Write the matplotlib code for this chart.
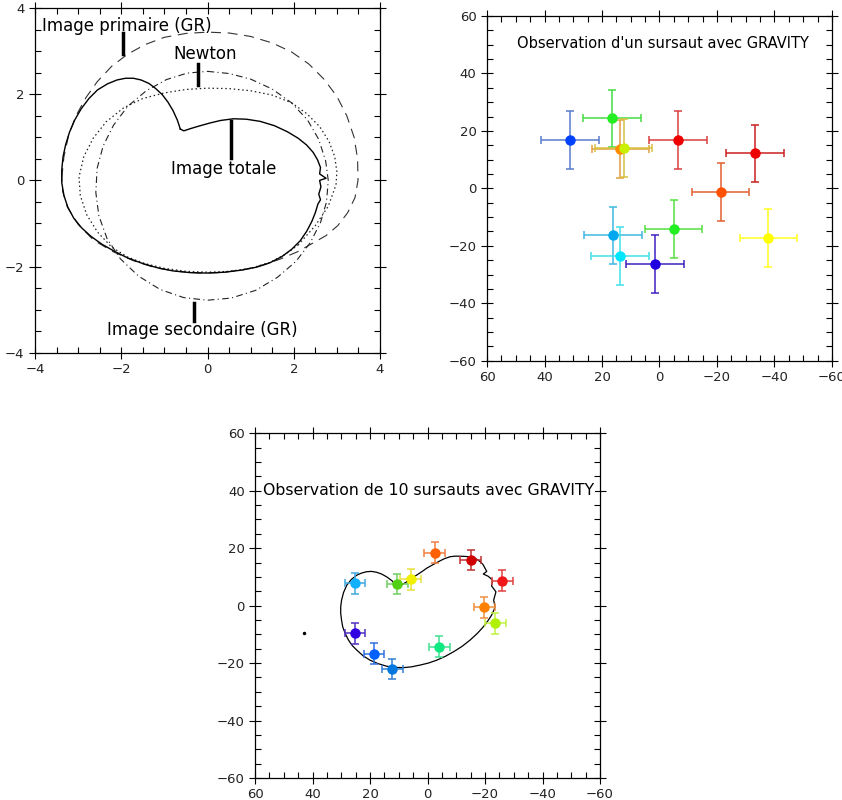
import numpy as np
import matplotlib
matplotlib.use('Agg')
import matplotlib.pyplot as plt
from matplotlib.ticker import MultipleLocator

# ---- panel 1 : images of the hot spot ----
tot_x = [-0.63, -0.70, -0.80, -0.92, -1.05, -1.20, -1.36, -1.54, -1.72, -1.90, -2.10, -2.32,
         -2.55, -2.75, -2.93, -3.08, -3.20, -3.29, -3.35, -3.38, -3.38, -3.33, -3.24, -3.10,
         -2.92, -2.70, -2.45, -2.15, -1.85, -1.50, -1.15, -0.80, -0.40, 0.00, 0.40, 0.80,
         1.15, 1.45, 1.72, 1.95, 2.15, 2.30, 2.42, 2.50, 2.56, 2.62, 2.58, 2.63, 2.60, 2.75,
         2.60, 2.62, 2.55, 2.45, 2.30, 2.10, 1.85, 1.55, 1.22, 0.90, 0.60, 0.30, 0.05, -0.20,
         -0.40, -0.55, -0.63]
tot_y = [1.19, 1.40, 1.62, 1.82, 1.99, 2.13, 2.25, 2.33, 2.37, 2.37, 2.33, 2.24,
         2.10, 1.90, 1.66, 1.40, 1.12, 0.83, 0.55, 0.25, -0.05, -0.35, -0.62, -0.88,
         -1.10, -1.30, -1.48, -1.65, -1.80, -1.93, -2.03, -2.10, -2.14, -2.15, -2.13, -2.08,
         -2.01, -1.91, -1.77, -1.60, -1.40, -1.18, -0.95, -0.75, -0.55, -0.45, -0.32, -0.15,
         0.00, 0.05, 0.15, 0.30, 0.48, 0.65, 0.82, 0.98, 1.13, 1.27, 1.37, 1.42, 1.43, 1.39,
         1.33, 1.26, 1.20, 1.15, 1.19]

prim_x = [-3.38, -3.33, -3.22, -3.05, -2.82, -2.55, -2.22, -1.85, -1.45, -1.00, -0.50, 0.00,
          0.50, 1.00, 1.50, 1.95, 2.35, 2.70, 3.00, 3.23, 3.40, 3.48, 3.49, 3.42, 3.25, 3.02,
          2.75, 2.45, 2.10, 1.70, 1.30, 0.80, 0.30, -0.20, -0.70, -1.20, -1.70, -2.20, -2.65,
          -3.00, -3.25, -3.36, -3.38]
prim_y = [0.05, 0.55, 1.05, 1.50, 1.92, 2.30, 2.65, 2.93, 3.15, 3.32, 3.41, 3.44,
          3.42, 3.34, 3.19, 2.98, 2.70, 2.35, 1.95, 1.50, 1.00, 0.50, 0.00, -0.40, -0.75, -1.05,
          -1.28, -1.45, -1.65, -1.82, -1.96, -2.08, -2.14, -2.15, -2.11, -2.03, -1.87, -1.65, -1.38,
          -1.02, -0.62, -0.25, 0.05]

newt_x = [2.10, 2.50, 2.80, 2.98, 3.00, 2.95, 2.82, 2.60, 2.30, 1.95, 1.50, 1.00, 0.50, 0.00,
          -0.50, -1.00, -1.50, -1.95, -2.35, -2.65, -2.87, -2.98, -2.95, -2.80, -2.55, -2.22,
          -1.85, -1.45, -1.00, -0.50, 0.00, 0.50, 1.00, 1.45, 1.80, 2.10]
newt_y = [-1.50, -1.05, -0.60, -0.10, 0.20, 0.55, 0.90, 1.25, 1.55, 1.80, 1.98, 2.08, 2.13, 2.14,
          2.11, 2.03, 1.90, 1.68, 1.36, 0.98, 0.55, 0.08, -0.35, -0.80, -1.20, -1.55,
          -1.78, -1.93, -2.04, -2.11, -2.13, -2.11, -2.04, -1.90, -1.72, -1.50]

sec_x = [0.00, 0.50, 1.00, 1.50, 1.95, 2.32, 2.58, 2.74, 2.80, 2.76, 2.62, 2.38, 2.05, 1.62,
         1.12, 0.55, 0.00, -0.55, -1.10, -1.60, -2.02, -2.33, -2.52, -2.59, -2.56, -2.42, -2.18,
         -1.85, -1.42, -0.95, -0.47, 0.00]
sec_y = [2.53, 2.48, 2.35, 2.12, 1.80, 1.40, 0.95, 0.45, 0.00, -0.50, -0.98, -1.45, -1.88, -2.25,
         -2.55, -2.73, -2.78, -2.72, -2.53, -2.22, -1.82, -1.35, -0.82, -0.28, 0.28, 0.80, 1.28,
         1.72, 2.08, 2.34, 2.49, 2.53]

# ---- panel 2 : one flare seen by GRAVITY ----
one_x = [31.2, 16.6, 13.6, 12.5, -6.4, -33.2, -21.3, -37.9, -4.9, 16.1, 13.7, 1.6]
one_y = [16.8, 24.4, 13.7, 14.0, 16.8, 12.2, -1.3, -17.2, -14.2, -16.3, -23.6, -26.3]
one_err = 10.0
one_mcol = ['#0040ff', '#22ee22', '#ff8a00', '#c8f000', '#ee0000', '#ee0000', '#ff5000',
            '#ffff00', '#22ee22', '#00a8f0', '#00e6ff', '#2000e0']
one_ecol = ['#5a7acc', '#44dd44', '#e0a040', '#d8c040', '#d84040', '#cc2020', '#e06030',
            '#ffff20', '#55e040', '#40b8e0', '#40e0e8', '#4020c0']

# ---- panel 3 : ten flares ----
ten_x = [25.2, 10.5, 5.9, -2.5, -15.0, -26.0, -19.8, -23.6, -4.1, 25.2, 18.6, 12.2]
ten_y = [7.7, 7.5, 9.1, 18.4, 15.9, 8.7, -0.6, -6.2, -14.3, -9.7, -16.7, -22.1]
ten_err = 3.6
ten_mcol = ['#10b0ff', '#50d010', '#f0f000', '#ff6000', '#d00000', '#f01818', '#ff8000',
            '#b0f000', '#10e880', '#3000e0', '#0060ff', '#0078e0']
ten_ecol = ['#40a8e0', '#70d060', '#e8e040', '#f08040', '#c03030', '#e04040', '#f09040',
            '#c0f040', '#40e090', '#5030c0', '#3070e0', '#3080d0']

curve_x = [10.7, 12.3, 14.2, 16.0, 17.7, 19.5, 21.2, 23.0, 24.6, 26.5, 28.1, 29.2, 29.9, 30.2,
           30.2, 29.9, 29.5, 28.6, 27.5, 26.2, 24.6, 22.5, 20.0, 17.2, 14.2, 11.3, 8.4, 5.5,
           2.6, -0.3, -3.2, -6.1, -9.0, -12.0, -14.8, -17.3, -19.4, -21.0, -22.3, -23.0, -23.5,
           -23.0, -23.8, -22.3, -22.6, -21.1, -19.4, -20.6, -20.0, -19.3, -18.3, -17.0, -15.4,
           -13.4, -11.3, -9.5, -7.8, -5.8, -3.8, -1.8, 0.3, 2.0, 3.8, 5.5, 7.2, 8.5, 9.5, 10.7]
curve_y = [6.6, 8.6, 10.0, 11.0, 11.6, 11.9, 11.8, 11.3, 10.6, 9.1, 7.1, 4.6, 1.9, -0.4,
           -2.7, -5.1, -7.4, -9.8, -12.0, -13.9, -15.5, -17.4, -19.0, -20.2, -21.1, -21.5, -21.6, -21.3,
           -20.7, -20.0, -19.0, -17.7, -16.1, -14.2, -12.0, -9.7, -7.4, -5.3, -3.3, -1.8, -0.4,
           1.9, 4.8, 6.8, 8.9, 10.2, 11.0, 11.9, 13.0, 14.3, 15.3, 16.2, 16.8,
           17.1, 17.2, 17.2, 17.0, 16.3, 15.3, 14.2, 13.0, 11.8, 10.6, 9.5, 8.3, 7.5, 6.9, 6.6]
dot_x, dot_y = [42.8], [-9.7]


def style_axes(ax, major, minor):
    ax.xaxis.set_major_locator(MultipleLocator(major))
    ax.yaxis.set_major_locator(MultipleLocator(major))
    ax.xaxis.set_minor_locator(MultipleLocator(minor))
    ax.yaxis.set_minor_locator(MultipleLocator(minor))
    ax.tick_params(which='both', top=True, right=True, labelsize=9.5,
                   labelcolor='#222222', width=0.8)
    ax.tick_params(which='major', direction='inout', length=8)
    ax.tick_params(which='minor', direction='in', length=4)
    for s in ax.spines.values():
        s.set_linewidth(0.9)


fig = plt.figure(figsize=(8.42, 8.0), dpi=100)

# panel 1
ax1 = fig.add_axes([0.0416, 0.559, 0.4097, 0.431])
ax1.plot(prim_x, prim_y, color='#333333', lw=0.8, ls=(0, (9, 6)))
ax1.plot(sec_x, sec_y, color='#222222', lw=0.8, ls=(0, (6, 3, 1, 3)))
ax1.plot(newt_x, newt_y, color='#222222', lw=0.9, ls=(0, (1.2, 2.2)))
ax1.plot(tot_x, tot_y, color='black', lw=1.0)
ax1.set_xlim(-4, 4)
ax1.set_ylim(-4, 4)
style_axes(ax1, 2, 0.5)
ax1.text(-3.84, 3.59, 'Image primaire (GR)', fontsize=12, ha='left', va='center')
ax1.plot([-1.95, -1.95], [3.43, 2.93], color='black', lw=2.5)
ax1.text(-0.05, 2.93, 'Newton', fontsize=12, ha='center', va='center')
ax1.plot([-0.21, -0.21], [2.70, 2.21], color='black', lw=2.5)
ax1.text(0.37, 0.26, 'Image totale', fontsize=12, ha='center', va='center')
ax1.plot([0.55, 0.55], [1.38, 0.53], color='black', lw=2.5)
ax1.text(-0.13, -3.46, 'Image secondaire (GR)', fontsize=12, ha='center', va='center')
ax1.plot([-0.32, -0.32], [-2.84, -3.27], color='black', lw=2.5)

# panel 2
ax2 = fig.add_axes([0.5784, 0.549, 0.4097, 0.431])
for x, y, mc, ec in zip(one_x, one_y, one_mcol, one_ecol):
    ax2.errorbar(x, y, xerr=one_err, yerr=one_err, fmt='o', ms=6.5, mfc=mc, mec=mc,
                 ecolor=ec, elinewidth=1.1, capsize=3, capthick=1.1)
ax2.set_xlim(60, -60)
ax2.set_ylim(-60, 60)
style_axes(ax2, 20, 5)
ax2.text(-1.2, 50.4, "Observation d'un sursaut avec GRAVITY", fontsize=10.5,
         ha='center', va='center')

# panel 3
ax3 = fig.add_axes([0.3029, 0.0275, 0.4097, 0.431])
ax3.plot(curve_x, curve_y, color='black', lw=0.9)
ax3.plot(dot_x, dot_y, 'o', color='black', ms=1.5)
for x, y, mc, ec in zip(ten_x, ten_y, ten_mcol, ten_ecol):
    ax3.errorbar(x, y, xerr=ten_err, yerr=ten_err, fmt='o', ms=6.5, mfc=mc, mec=mc,
                 ecolor=ec, elinewidth=1.1, capsize=3, capthick=1.1)
ax3.set_xlim(60, -60)
ax3.set_ylim(-60, 60)
style_axes(ax3, 20, 5)
ax3.text(-0.3, 40, 'Observation de 10 sursauts avec GRAVITY', fontsize=11.3,
         ha='center', va='center', bbox=dict(fc='white', ec='none', pad=0.5))

fig.savefig('out.png', dpi=100)
